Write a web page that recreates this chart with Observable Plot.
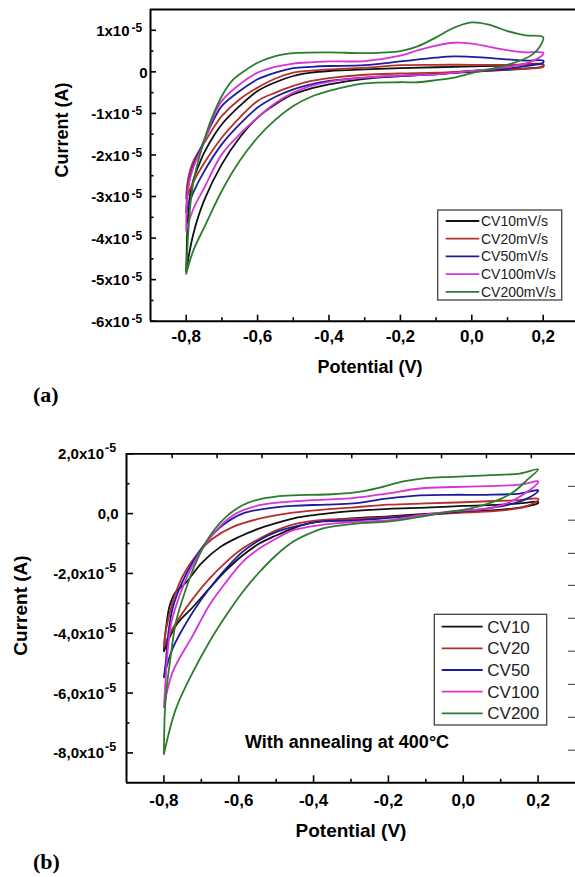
<!DOCTYPE html>
<html>
<head>
<meta charset="utf-8">
<script src="https://cdn.jsdelivr.net/npm/d3@7"></script>
<script src="https://cdn.jsdelivr.net/npm/@observablehq/plot@0.6"></script>
<style>
  html, body { margin: 0; padding: 0; background: #fff; }
  #page { position: relative; width: 575px; height: 877px; overflow: hidden; background: #fff;
          font-family: "Liberation Sans", Arial, sans-serif; }
  .slot { position: absolute; left: 0; }
</style>
</head>
<body>
<div id="page"></div>
<script>
// ---------- series metadata ----------
const seriesNames = ["CV10", "CV20", "CV50", "CV100", "CV200"];
const seriesColors = ["#111111", "#b5302a", "#1c1c9c", "#d832d8", "#2b7d2b"];
const legendLabelsA = ["CV10mV/s", "CV20mV/s", "CV50mV/s", "CV100mV/s", "CV200mV/s"];
const legendLabelsB = ["CV10", "CV20", "CV50", "CV100", "CV200"];

// ---------- panel (a) data: [potential V, current in 1e-5 A], forward scan then return ----------
const cv10A = [[-0.8,-4.8],[-0.798,-4.1],[-0.795,-3.5],[-0.79,-3.0],[-0.78,-2.6],[-0.76,-2.15],[-0.75,-1.95],[-0.72,-1.5],[-0.7,-1.26],[-0.65,-0.82],[-0.6,-0.46],[-0.55,-0.25],[-0.5,-0.1],[-0.45,-0.02],[-0.4,0.02],[-0.3,0.06],[-0.2,0.09],[-0.1,0.11],[0,0.13],[0.1,0.15],[0.2,0.18],
  [0.2,0.13],[0.15,0.08],[0.1,0.05],[0,0.0],[-0.1,-0.05],[-0.2,-0.1],[-0.3,-0.17],[-0.4,-0.3],[-0.45,-0.4],[-0.5,-0.54],[-0.55,-0.78],[-0.6,-1.1],[-0.65,-1.58],[-0.7,-2.22],[-0.75,-3.1],[-0.78,-3.9],[-0.8,-4.8]];
const cv20A = [[-0.8,-3.05],[-0.797,-2.7],[-0.79,-2.4],[-0.78,-2.15],[-0.76,-1.85],[-0.75,-1.72],[-0.72,-1.3],[-0.7,-1.06],[-0.65,-0.66],[-0.6,-0.38],[-0.55,-0.16],[-0.5,-0.02],[-0.45,0.03],[-0.4,0.06],[-0.3,0.1],[-0.2,0.16],[-0.1,0.17],[0,0.17],[0.1,0.17],[0.2,0.16],
  [0.2,0.12],[0.1,0.06],[0,0.02],[-0.1,-0.02],[-0.2,-0.04],[-0.3,-0.07],[-0.4,-0.15],[-0.45,-0.22],[-0.5,-0.34],[-0.55,-0.5],[-0.6,-0.7],[-0.65,-1.1],[-0.7,-1.58],[-0.75,-2.2],[-0.78,-2.65],[-0.8,-3.05]];
const cv50A = [[-0.8,-3.38],[-0.797,-2.95],[-0.79,-2.55],[-0.78,-2.25],[-0.76,-1.85],[-0.75,-1.65],[-0.72,-1.1],[-0.7,-0.82],[-0.65,-0.46],[-0.6,-0.18],[-0.55,-0.02],[-0.5,0.09],[-0.45,0.12],[-0.4,0.14],[-0.3,0.16],[-0.2,0.25],[-0.1,0.34],[-0.05,0.37],[0,0.36],[0.1,0.3],[0.15,0.27],[0.2,0.27],
  [0.2,0.22],[0.15,0.14],[0.1,0.08],[0,0.02],[-0.1,-0.06],[-0.2,-0.1],[-0.3,-0.14],[-0.4,-0.22],[-0.45,-0.3],[-0.5,-0.42],[-0.55,-0.6],[-0.6,-0.86],[-0.65,-1.26],[-0.7,-1.74],[-0.75,-2.4],[-0.78,-2.9],[-0.8,-3.38]];
const cv100A = [[-0.8,-3.82],[-0.799,-3.3],[-0.796,-2.9],[-0.79,-2.6],[-0.78,-2.3],[-0.76,-1.9],[-0.75,-1.7],[-0.72,-1.0],[-0.7,-0.7],[-0.65,-0.3],[-0.6,-0.02],[-0.55,0.12],[-0.5,0.2],[-0.45,0.23],[-0.4,0.25],[-0.3,0.26],[-0.2,0.39],[-0.15,0.52],[-0.1,0.63],[-0.05,0.7],[0,0.68],[0.05,0.6],[0.1,0.52],[0.15,0.47],[0.2,0.46],
  [0.2,0.42],[0.18,0.3],[0.15,0.2],[0.1,0.12],[0,0.02],[-0.1,-0.06],[-0.2,-0.09],[-0.3,-0.14],[-0.4,-0.24],[-0.45,-0.34],[-0.5,-0.5],[-0.55,-0.75],[-0.6,-1.1],[-0.65,-1.5],[-0.7,-1.98],[-0.75,-2.8],[-0.78,-3.3],[-0.8,-3.82]];
const cv200A = [[-0.8,-4.86],[-0.797,-4.3],[-0.793,-3.7],[-0.786,-3.0],[-0.775,-2.45],[-0.755,-1.8],[-0.73,-1.15],[-0.7,-0.58],[-0.67,-0.2],[-0.65,-0.06],[-0.6,0.22],[-0.55,0.38],[-0.5,0.45],[-0.4,0.47],[-0.3,0.45],[-0.2,0.5],[-0.15,0.62],[-0.1,0.83],[-0.05,1.06],[0,1.19],[0.05,1.13],[0.1,0.98],[0.15,0.88],[0.2,0.83],
  [0.19,0.6],[0.17,0.42],[0.15,0.32],[0.1,0.17],[0.05,0.06],[0,-0.03],[-0.05,-0.14],[-0.1,-0.2],[-0.15,-0.25],[-0.2,-0.25],[-0.3,-0.28],[-0.4,-0.46],[-0.45,-0.6],[-0.5,-0.82],[-0.55,-1.15],[-0.6,-1.58],[-0.65,-2.14],[-0.7,-2.86],[-0.75,-3.75],[-0.78,-4.3],[-0.8,-4.86]];

// ---------- panel (b) data: [potential V, current in 1e-5 A] ----------
const cv10B = [[-0.8,-4.6],[-0.797,-4.1],[-0.792,-3.6],[-0.785,-3.1],[-0.77,-2.65],[-0.74,-2.29],[-0.7,-1.66],[-0.65,-1.12],[-0.6,-0.78],[-0.55,-0.52],[-0.5,-0.32],[-0.45,-0.15],[-0.4,-0.05],[-0.367,0.0],[-0.3,0.08],[-0.2,0.16],[-0.1,0.2],[0,0.26],[0.1,0.3],[0.15,0.34],[0.2,0.39],
  [0.2,0.35],[0.15,0.2],[0.1,0.13],[0,0.05],[-0.1,-0.01],[-0.2,-0.09],[-0.3,-0.16],[-0.367,-0.24],[-0.41,-0.32],[-0.456,-0.5],[-0.5,-0.73],[-0.545,-1.0],[-0.59,-1.4],[-0.634,-1.9],[-0.679,-2.51],[-0.723,-3.13],[-0.768,-3.74],[-0.8,-4.6]];
const cv20B = [[-0.8,-4.46],[-0.797,-4.08],[-0.786,-3.41],[-0.771,-2.74],[-0.749,-2.07],[-0.714,-1.4],[-0.67,-0.84],[-0.617,-0.45],[-0.545,-0.17],[-0.456,0.03],[-0.367,0.14],[-0.3,0.2],[-0.2,0.3],[-0.1,0.34],[0,0.38],[0.1,0.43],[0.15,0.45],[0.2,0.5],
  [0.2,0.45],[0.17,0.25],[0.15,0.18],[0.1,0.1],[0,0.03],[-0.1,-0.04],[-0.2,-0.12],[-0.3,-0.18],[-0.367,-0.2],[-0.412,-0.26],[-0.456,-0.37],[-0.5,-0.56],[-0.545,-0.84],[-0.59,-1.17],[-0.634,-1.62],[-0.679,-2.18],[-0.723,-2.85],[-0.777,-3.85],[-0.8,-4.46]];
const cv50B = [[-0.8,-5.47],[-0.795,-4.97],[-0.789,-4.08],[-0.777,-3.18],[-0.755,-2.4],[-0.723,-1.62],[-0.687,-0.95],[-0.643,-0.39],[-0.59,0.0],[-0.527,0.17],[-0.456,0.26],[-0.367,0.3],[-0.294,0.34],[-0.205,0.5],[-0.116,0.61],[-0.027,0.63],[0.062,0.63],[0.151,0.67],[0.2,0.78],
  [0.2,0.75],[0.17,0.5],[0.116,0.28],[0.045,0.14],[-0.027,0.05],[-0.116,-0.06],[-0.205,-0.15],[-0.294,-0.23],[-0.375,-0.26],[-0.456,-0.45],[-0.501,-0.62],[-0.545,-0.89],[-0.59,-1.28],[-0.634,-1.84],[-0.679,-2.51],[-0.723,-3.3],[-0.777,-4.52],[-0.8,-5.47]];
const cv100B = [[-0.8,-6.47],[-0.797,-5.86],[-0.791,-4.75],[-0.78,-3.63],[-0.758,-2.74],[-0.732,-1.95],[-0.697,-1.17],[-0.652,-0.45],[-0.608,0.0],[-0.545,0.28],[-0.456,0.41],[-0.367,0.47],[-0.294,0.52],[-0.205,0.67],[-0.116,0.84],[-0.027,0.89],[0.062,0.92],[0.151,0.97],[0.2,1.08],
  [0.2,1.04],[0.17,0.72],[0.125,0.39],[0.062,0.17],[-0.027,0.08],[-0.116,-0.06],[-0.205,-0.23],[-0.294,-0.28],[-0.375,-0.37],[-0.456,-0.56],[-0.501,-0.84],[-0.545,-1.17],[-0.59,-1.62],[-0.634,-2.29],[-0.679,-3.07],[-0.723,-4.08],[-0.777,-5.31],[-0.8,-6.47]];
const cv200B = [[-0.8,-8.04],[-0.798,-6.76],[-0.793,-5.86],[-0.784,-4.97],[-0.768,-3.63],[-0.741,-2.51],[-0.714,-1.62],[-0.679,-0.78],[-0.634,-0.11],[-0.59,0.28],[-0.545,0.48],[-0.501,0.57],[-0.456,0.61],[-0.367,0.64],[-0.294,0.7],[-0.22,0.88],[-0.16,1.08],[-0.1,1.19],[-0.027,1.23],[0.062,1.28],[0.151,1.34],[0.2,1.48],
  [0.17,1.12],[0.134,0.72],[0.08,0.39],[0.018,0.17],[-0.045,0.05],[-0.116,-0.11],[-0.16,-0.2],[-0.205,-0.27],[-0.294,-0.34],[-0.375,-0.49],[-0.412,-0.67],[-0.456,-0.95],[-0.501,-1.4],[-0.545,-1.96],[-0.59,-2.63],[-0.634,-3.41],[-0.679,-4.3],[-0.723,-5.31],[-0.768,-6.53],[-0.8,-8.04]];

// ---------- axes / ticks ----------
const xTicks = [-0.8, -0.6, -0.4, -0.2, 0.0, 0.2];
const xTickLabels = ["-0,8", "-0,6", "-0,4", "-0,2", "0,0", "0,2"];
const xMinor = [-0.7, -0.5, -0.3, -0.1, 0.1];

const yTicksA = [-6, -5, -4, -3, -2, -1, 0, 1];
const yBaseA = ["-6x10", "-5x10", "-4x10", "-3x10", "-2x10", "-1x10", "0", "1x10"];
const yExpA = ["-5", "-5", "-5", "-5", "-5", "-5", "", "-5"];
const yMinorA = [-5.5, -4.5, -3.5, -2.5, -1.5, -0.5, 0.5];

const yTicksB = [-8, -6, -4, -2, 0, 2];
const yBaseB = ["-8,0x10", "-6,0x10", "-4,0x10", "-2,0x10", "0,0", "2,0x10"];
const yExpB = ["-5", "-5", "-5", "-5", "", "-5"];
const yMinorB = [-7, -5, -3, -1, 1];
// stray tick marks visible along the top and right edge of panel (b)
const topTicksB = [-0.778, -0.658, -0.538, -0.418, -0.298, -0.178, -0.058, 0.062, 0.182];
const rightTicksB = [0.91, -0.22, -1.33, -2.4, -3.5, -4.6, -5.71, -6.81, -7.91];

// ---------- helpers ----------
const W = 575;
const FONT = "Liberation Sans, Arial, sans-serif";
function rows(series) {
  return series.flatMap((pts, k) => pts.map(([v, i]) => ({series: seriesNames[k], v, i})));
}
function yLabelRows(ticks, base, exp) {
  return ticks.map((t, k) => ({t, base: base[k], sup: exp[k]}));
}
const xLabelRows = xTicks.map((t, k) => ({t, label: xTickLabels[k]}));

function panel(cfg) {
  const innerH = cfg.bottom - cfg.top;
  const innerW = W - cfg.left;
  const yl = yLabelRows(cfg.yTicks, cfg.yBase, cfg.yExp);
  const marks = [
    Plot.line(rows(cfg.series), {x: "v", y: "i", z: "series", stroke: "series", strokeWidth: 1.8, curve: "catmull-rom"}),
    Plot.ruleX([cfg.xDomain[0]], {strokeWidth: 2}),
    Plot.ruleY([cfg.yDomain[0]], {strokeWidth: 2}),
    Plot.ruleY([cfg.yDomain[1]], {strokeWidth: 1.8}),
    Plot.tickX(xTicks, {x: d => d, insetTop: innerH - cfg.major, strokeWidth: 1.6}),
    Plot.tickX(xMinor, {x: d => d, insetTop: innerH - cfg.minor, strokeWidth: 1.6}),
    Plot.tickY(cfg.yTicks, {y: d => d, insetRight: innerW - cfg.major, strokeWidth: 1.6}),
    Plot.tickY(cfg.yMinor, {y: d => d, insetRight: innerW - cfg.minor, strokeWidth: 1.6}),
    Plot.text(xLabelRows, {x: "t", text: "label", frameAnchor: "bottom", lineAnchor: "bottom",
      dy: cfg.xLabelDy, fontSize: 17, fontWeight: "bold", fontFamily: FONT}),
    Plot.text(yl.filter(d => d.sup), {y: "t", text: "base", frameAnchor: "left", textAnchor: "end",
      lineAnchor: "bottom", dx: cfg.baseDx, dy: cfg.baseDy, fontSize: 15, fontWeight: "bold", fontFamily: FONT}),
    Plot.text(yl.filter(d => d.sup), {y: "t", text: "sup", frameAnchor: "left", textAnchor: "start",
      lineAnchor: "bottom", dx: cfg.supDx, dy: cfg.supDy, fontSize: cfg.supSize, fontWeight: "bold", fontFamily: FONT}),
    Plot.text(yl.filter(d => !d.sup), {y: "t", text: "base", frameAnchor: "left", textAnchor: "end",
      lineAnchor: "bottom", dx: cfg.zeroDx, dy: cfg.baseDy, fontSize: 15, fontWeight: "bold", fontFamily: FONT})
  ];
  if (cfg.extra) marks.push(...cfg.extra(innerH, innerW));
  return Plot.plot({
    width: W, height: cfg.height,
    marginTop: cfg.top - cfg.offset, marginBottom: cfg.offset + cfg.height - cfg.bottom,
    marginLeft: cfg.left, marginRight: 0,
    style: {fontFamily: FONT, background: "transparent", overflow: "visible"},
    x: {domain: cfg.xDomain, axis: null},
    y: {domain: cfg.yDomain, axis: null},
    color: {domain: seriesNames, range: seriesColors},
    marks
  });
}

const page = document.getElementById("page");

const plotA = panel({
  offset: 0, height: 420, top: 9, bottom: 320.7, left: 150,
  xDomain: [-0.9, 0.2905], yDomain: [-6, 1.5],
  series: [cv10A, cv20A, cv50A, cv100A, cv200A],
  yTicks: yTicksA, yBase: yBaseA, yExp: yExpA, yMinor: yMinorA,
  major: 6, minor: 3.5, xLabelDy: 21,
  baseDx: -21, baseDy: 5.7, supDx: -19, supDy: 1.8, supSize: 12, zeroDx: -3
});
const slotA = document.createElement("div");
slotA.className = "slot"; slotA.style.top = "0px";
slotA.appendChild(plotA); page.appendChild(slotA);

const plotB = panel({
  offset: 420, height: 457, top: 453.3, bottom: 782.3, left: 126,
  xDomain: [-0.9, 0.3], yDomain: [-9, 2],
  series: [cv10B, cv20B, cv50B, cv100B, cv200B],
  yTicks: yTicksB, yBase: yBaseB, yExp: yExpB, yMinor: yMinorB,
  major: 7, minor: 3.5, xLabelDy: 23,
  baseDx: -22.5, baseDy: 5.6, supDx: -21.5, supDy: -1.5, supSize: 12.5, zeroDx: -8,
  extra: (innerH, innerW) => [
    Plot.tickX(topTicksB, {x: d => d, insetBottom: innerH - 5, strokeWidth: 1.5}),
    Plot.tickY(rightTicksB, {y: d => d, insetLeft: innerW - 7, strokeWidth: 1.2, stroke: "#555"})
  ]
});
const slotB = document.createElement("div");
slotB.className = "slot"; slotB.style.top = "420px";
slotB.appendChild(plotB); page.appendChild(slotB);

// ---------- overlay: axis titles, panel tags, legends, annotation ----------
const ov = d3.select(page).append("svg")
  .attr("width", W).attr("height", 877)
  .style("position", "absolute").style("left", "0px").style("top", "0px")
  .style("pointer-events", "none")
  .attr("font-family", FONT);

function title(x, y, txt, size, rotate) {
  ov.append("text")
    .attr("transform", `translate(${x},${y})` + (rotate ? " rotate(-90)" : ""))
    .attr("text-anchor", "middle").attr("font-size", size).attr("font-weight", "bold")
    .attr("fill", "#000").text(txt);
}
title(67.5, 130, "Current (A)", 18, true);
title(370, 372.5, "Potential (V)", 18, false);
title(26.5, 605.5, "Current (A)", 19, true);
title(351, 836.5, "Potential (V)", 19, false);

function tag(y, txt) {
  ov.append("text").attr("x", 33).attr("y", y)
    .attr("font-family", "Liberation Serif, Times New Roman, serif")
    .attr("font-size", 22).attr("font-weight", "bold").attr("fill", "#000").text(txt);
}
tag(402, "(a)");
tag(869, "(b)");

ov.append("text").attr("x", 245).attr("y", 748)
  .attr("font-size", 18).attr("font-weight", "bold").attr("fill", "#000")
  .text("With annealing at 400°C");

function legend(cfg) {
  ov.append("rect").attr("x", cfg.x).attr("y", cfg.y).attr("width", cfg.w).attr("height", cfg.h)
    .attr("fill", "#fff").attr("stroke", "#444").attr("stroke-width", 1.3);
  cfg.labels.forEach((lab, k) => {
    const yy = cfg.row0 + k * cfg.step;
    ov.append("line").attr("x1", cfg.lx1).attr("x2", cfg.lx2).attr("y1", yy).attr("y2", yy)
      .attr("stroke", seriesColors[k]).attr("stroke-width", 1.8);
    ov.append("text").attr("x", cfg.tx).attr("y", yy + cfg.baseOff)
      .attr("font-size", cfg.size).attr("fill", "#222").text(lab);
  });
}
legend({x: 437.7, y: 210, w: 124, h: 90, labels: legendLabelsA, row0: 221, step: 17.7,
        lx1: 445.7, lx2: 479.3, tx: 481, baseOff: 5, size: 14});
legend({x: 434.3, y: 614.3, w: 112.4, h: 110.7, labels: legendLabelsB, row0: 626.7, step: 21.65,
        lx1: 441.7, lx2: 482.7, tx: 487.3, baseOff: 6, size: 17});
</script>
</body>
</html>
